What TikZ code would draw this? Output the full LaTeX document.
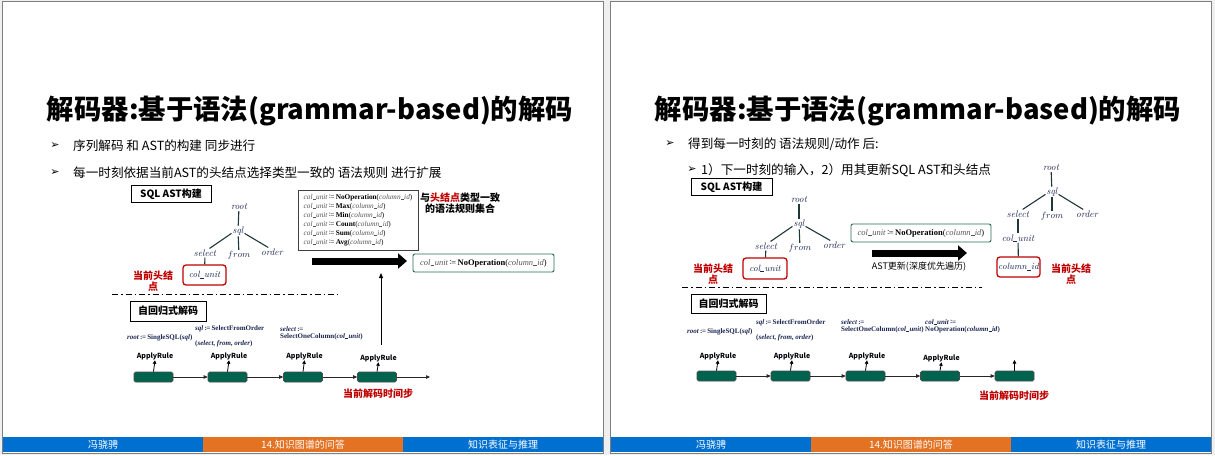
\documentclass[tikz,border=0pt]{standalone}
\usepackage{fontspec}
\usetikzlibrary{arrows.meta}
\newfontfamily\cjk{Noto Sans CJK SC}
\newfontfamily\dejavu{DejaVu Sans}
\newfontfamily\rulefont{Liberation Serif}

\definecolor{frameline}{HTML}{7F7F7F}
\definecolor{pagebg}{HTML}{EFEFEF}
\definecolor{barblue}{HTML}{0070D0}
\definecolor{barorange}{HTML}{E37222}
\definecolor{hdred}{HTML}{C00000}
\definecolor{navy}{HTML}{1A2550}
\definecolor{treeline}{HTML}{1E3838}
\definecolor{stepgreen}{HTML}{00634D}
\definecolor{boxgreen}{HTML}{2A6E58}
\definecolor{rulegray}{HTML}{555555}

% a short underscore for identifiers such as col_unit
\newcommand\us{\leavevmode\kern0.03em\rule[-0.12ex]{0.42em}{0.055em}\kern0.04em}
% the "is defined as" sign
\newcommand\defeq{\raisebox{0.1ex}{:}\kern-0.06em=}
\newcommand\ruleline[1]{\textcolor{rulegray}{\textit{col\us unit}}\,\defeq\,\textbf{#1}(\textcolor{rulegray}{\textit{column\us id}})}
\newcommand\assign{\,\defeq\,}

\tikzset{
  slide/.style={draw=frameline, line width=1pt, fill=white},
  footer/.style={font=\cjk\fontsize{10}{12}\selectfont, text=white, inner sep=0pt},
  titletext/.style={font=\cjk\bfseries\fontsize{27.4}{32}\selectfont, inner sep=0pt},
  bullettext/.style={font=\cjk\fontsize{12.6}{15}\selectfont, anchor=west, inner sep=0pt},
  bulletmark/.style={font=\dejavu\fontsize{11}{12}\selectfont, inner sep=0pt},
  secbox/.style={draw=black, line width=0.9pt, font=\cjk\bfseries\fontsize{10}{12}\selectfont, inner sep=0pt},
  tn/.style={font=\fontsize{9.5}{11}\selectfont\itshape, text=navy, inner sep=1pt},
  tline/.style={draw=treeline, line width=1.1pt},
  headbox/.style={draw=hdred, line width=1.3pt, rounded corners=3pt, minimum width=43pt, minimum height=20pt,
    font=\fontsize{9}{11}\selectfont\itshape, text=navy, inner sep=0pt},
  headlabel/.style={font=\cjk\bfseries\fontsize{10}{11.5}\selectfont, text=hdred, align=center, inner sep=0pt},
  rulebox/.style={draw=black!75, line width=0.9pt, minimum width=120pt, minimum height=60pt, inner sep=0pt,
    font=\rulefont\fontsize{7.3}{9}\selectfont},
  actbox/.style={draw=boxgreen, line width=0.9pt, rounded corners=2pt, minimum width=141pt, minimum height=18pt,
    inner sep=0pt, font=\rulefont\fontsize{8.5}{10}\selectfont},
  bigarrow/.style={line width=7pt, -{Triangle[length=9pt,width=15pt]}},
  dashdot/.style={line width=1pt, dash pattern=on 6pt off 3pt on 1.5pt off 3pt},
  grule/.style={font=\rulefont\bfseries\fontsize{7}{8}\selectfont, text=navy, anchor=west, inner sep=0pt},
  stepbox/.style={fill=stepgreen, draw=black!70, line width=0.6pt, rounded corners=1.5pt,
    minimum width=39pt, minimum height=10pt, inner sep=0pt},
  applylabel/.style={font=\cjk\bfseries\fontsize{7}{8}\selectfont, text=black!85!navy, inner sep=0.5pt},
  flow/.style={line width=0.7pt, draw=black!85, -{Triangle[length=4pt,width=3.5pt]}},
  uparrow/.style={line width=0.8pt, -{Triangle[length=3.5pt,width=3.5pt]}},
}

\begin{document}
\begin{tikzpicture}[x=1pt,y=-1pt]
\fill[pagebg] (0,0) rectangle (1215,455);
\useasboundingbox (0,0) rectangle (1215,455);

% two slide frames, title and footer bars
\foreach \o/\s in {0/L,608/R}{
  \draw[slide] (2+\o,1.5) rectangle (603+\o,453);
  \fill[barblue]   (3+\o,437) rectangle (203+\o,452);
  \fill[barorange] (203+\o,437) rectangle (403+\o,452);
  \fill[barblue]   (403+\o,437) rectangle (603+\o,452);
  \node[footer] (fa\s) at (103+\o,445) {冯骁骋};
  \node[footer] (fb\s) at (303+\o,445) {14.知识图谱的问答};
  \node[footer] (fc\s) at (503+\o,445) {知识表征与推理};
  \node[titletext] (title\s) at (310+\o,111) {解码器:基于语法(grammar-based)的解码};
}

% ---------------- left slide ----------------
\node[bulletmark] (b1m) at (55,146) {➢};
\node[bullettext] (b1) at (73,146) {序列解码 和 AST的构建 同步进行};
\node[bulletmark] (b2m) at (55,173) {➢};
\node[bullettext] (b2) at (73,173) {每一时刻依据当前AST的头结点选择类型一致的 语法规则 进行扩展};

\node[secbox, minimum width=80pt, minimum height=17pt] (astL) at (171,194) {SQL AST构建};

% syntax tree before expansion
\node[tn] (rootL) at (239,207) {root};
\node[tn] (sqlL) at (238,231) {sql};
\node[tn] (selL) at (205,253) {select};
\node[tn] (fromL) at (239,255) {$from$};
\node[tn] (ordL) at (272,252) {order};
\node[headbox] (cuL) at (204.5,275) {col\us unit};
\draw[tline] (rootL) -- (sqlL);
\draw[tline] (sqlL.200) -- (selL.45);
\draw[tline] (sqlL) -- (fromL);
\draw[tline] (sqlL.340) -- (ordL.130);
\draw[tline] (selL) -- (cuL);
\node[headlabel] (hdL) at (153,281) {当前头结\\点};

% candidate rules
\node[rulebox] (rules) at (358,220) {\begin{tabular}{@{}l@{}}
\ruleline{NoOperation}\\
\ruleline{Max}\\
\ruleline{Min}\\
\ruleline{Count}\\
\ruleline{Sum}\\
\ruleline{Avg}
\end{tabular}};
\node[font=\cjk\bfseries\fontsize{10}{11}\selectfont, align=center, inner sep=0pt] (rulesnote) at (460,203)
  {与\textcolor{hdred}{头结点}类型一致\\的语法规则集合};

\coordinate (bgL1) at (312,261);
\coordinate (bgL2) at (407,261);
\draw[bigarrow] (bgL1) -- (bgL2);
\node[actbox] (actL) at (483.5,263) {\ruleline{NoOperation}};

\draw[dashdot] (112,294) coordinate (ddL1) -- (338,294) coordinate (ddL2);

\node[secbox, minimum width=76pt, minimum height=20pt] (arL) at (168,311) {自回归式解码};

\node[grule] (g1L) at (127,338) {\textit{root}\assign SingleSQL(\textit{sql})};
\node[grule] (g2L) at (195,329) {\textit{sql}\assign SelectFromOrder};
\node[grule] (g3L) at (195,344) {(\textit{select}, \textit{from}, \textit{order})};
\node[grule] (g4L) at (280,329) {\textit{select}\assign};
\node[grule] (g5L) at (280,336.5) {SelectOneColumn(\textit{col\us unit})};

\foreach \i/\x/\ly in {1/153.5/356, 2/227.5/356, 3/303/356, 4/377/358}{
  \node[stepbox] (sL\i) at (\x,377) {};
  \node[applylabel] (aL\i) at (\x+1.5,\ly) {ApplyRule};
  \draw[uparrow] (sL\i.north) -- (aL\i.south);
}
\draw[flow] (sL1) -- (sL2);
\draw[flow] (sL2) -- (sL3);
\draw[flow] (sL3) -- (sL4);
\coordinate (endL) at (430,377);
\draw[flow] (sL4) -- (endL);
\node[headlabel] (curL) at (378,394) {当前解码时间步};

\coordinate (upL) at (381,273);
\draw[line width=0.8pt, -{Triangle[length=5pt,width=4pt]}] (381,345) coordinate (upLs) -- (upL);

% ---------------- right slide ----------------
\node[bulletmark] (c1m) at (670,144) {➢};
\node[bullettext] (c1) at (688,144) {得到每一时刻的 语法规则/动作 后:};
\node[bulletmark] (c2m) at (692,170) {➢};
\node[bullettext] (c2) at (701,170) {1）下一时刻的输入，2）用其更新SQL AST和头结点};

\node[secbox, minimum width=81pt, minimum height=17pt] (astR) at (731.5,187) {SQL AST构建};

% syntax tree before the update
\node[tn] (rootR) at (799,200) {root};
\node[tn] (sqlR) at (799,224) {sql};
\node[tn] (selR) at (766,246) {select};
\node[tn] (fromR) at (800,248) {$from$};
\node[tn] (ordR) at (834,245) {order};
\node[headbox, minimum width=44pt, minimum height=21pt] (cuR) at (765,268.5) {col\us unit};
\draw[tline] (rootR) -- (sqlR);
\draw[tline] (sqlR.200) -- (selR.45);
\draw[tline] (sqlR) -- (fromR);
\draw[tline] (sqlR.340) -- (ordR.130);
\draw[tline] (selR) -- (cuR);
\node[headlabel] (hdR) at (713,274) {当前头结\\点};

\node[actbox, minimum width=140pt] (actR) at (921,233) {\ruleline{NoOperation}};
\coordinate (bgR1) at (872,253);
\coordinate (bgR2) at (967,253);
\draw[bigarrow] (bgR1) -- (bgR2);
\node[font=\cjk\fontsize{9}{11}\selectfont, inner sep=0pt] (updR) at (919,267) {AST更新(深度优先遍历)};

% syntax tree after the update
\node[tn] (rootN) at (1051,168) {root};
\node[tn] (sqlN) at (1052,192) {sql};
\node[tn] (selN) at (1018,214) {select};
\node[tn] (fromN) at (1052,216) {$from$};
\node[tn] (ordN) at (1087,214) {order};
\node[tn] (cuN) at (1018,238) {col\us unit};
\node[headbox] (ciN) at (1018.5,267) {column\us id};
\draw[tline] (rootN) -- (sqlN);
\draw[tline] (sqlN.200) -- (selN.45);
\draw[tline] (sqlN) -- (fromN);
\draw[tline] (sqlN.340) -- (ordN.130);
\draw[tline] (selN) -- (cuN);
\draw[tline] (cuN) -- (ciN);
\node[headlabel] (hdN) at (1071,274) {当前头结\\点};

\draw[dashdot] (682,287) coordinate (ddR1) -- (982,287) coordinate (ddR2);

\node[secbox, minimum width=75pt, minimum height=19pt] (arR) at (728.5,303.5) {自回归式解码};

\node[grule] (g1R) at (687,332) {\textit{root}\assign SingleSQL(\textit{sql})};
\node[grule] (g2R) at (756,323) {\textit{sql}\assign SelectFromOrder};
\node[grule] (g3R) at (756,338) {(\textit{select}, \textit{from}, \textit{order})};
\node[grule] (g4R) at (841,322) {\textit{select}\assign};
\node[grule] (g5R) at (841,329.5) {SelectOneColumn(\textit{col\us unit})};
\node[grule] (g6R) at (925,322) {\textit{col\us unit}\assign};
\node[grule] (g7R) at (925,329.5) {NoOperation(\textit{column\us id})};

\foreach \i/\x/\ly in {1/716.5/356, 2/790.5/356, 3/865.5/356, 4/940/358}{
  \node[stepbox] (sR\i) at (\x,376) {};
  \node[applylabel] (aR\i) at (\x+1.5,\ly) {ApplyRule};
  \draw[uparrow] (sR\i.north) -- (aR\i.south);
}
\node[stepbox] (sR5) at (1014.5,376) {};
\coordinate (upR5) at (1014.5,360);
\draw[uparrow] (sR5.north) -- (upR5);
\draw[flow] (sR1) -- (sR2);
\draw[flow] (sR2) -- (sR3);
\draw[flow] (sR3) -- (sR4);
\draw[flow] (sR4) -- (sR5);
\node[headlabel] (curR) at (1014,396) {当前解码时间步};
\end{tikzpicture}
\end{document}
